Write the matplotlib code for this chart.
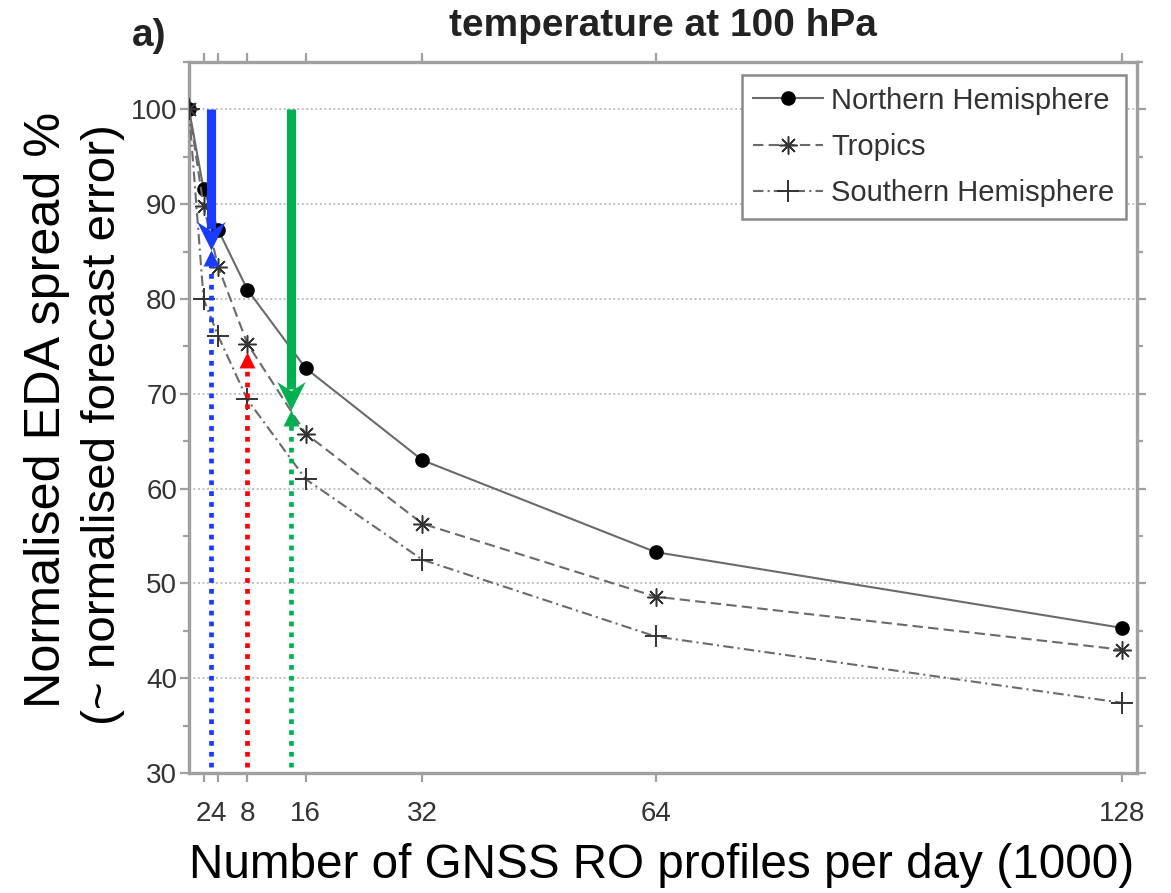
import matplotlib
matplotlib.use("Agg")
import matplotlib.pyplot as plt
from matplotlib.path import Path
from matplotlib.ticker import MultipleLocator, FixedLocator

plt.rcParams["font.family"] = ["Liberation Sans", "DejaVu Sans"]

# GNSS RO profiles per day (thousands) and normalised EDA spread (%)
profiles = [0, 2, 4, 8, 16, 32, 64, 128]
northern = [100, 91.6, 87.3, 81.0, 72.7, 63.0, 53.3, 45.3]
tropics = [100, 89.8, 83.4, 75.3, 65.8, 56.3, 48.6, 43.0]
southern = [100, 80.0, 76.1, 69.4, 61.0, 52.5, 44.4, 37.4]

xtick_values = [2, 4, 8, 16, 32, 64, 128]
ytick_values = [30, 40, 50, 60, 70, 80, 90, 100]

# Highlight arrows: thick downward arrows and dotted upward arrows
down_arrow_x = [3, 14]
down_arrow_tip = [85.2, 68.3]
down_arrow_colors = ["#1a3cff", "#00b050"]
up_arrow_x = [3, 8, 14]
up_arrow_tip = [85.2, 74.4, 68.3]
up_arrow_colors = ["#1a3cff", "#ff0000", "#00b050"]

W, H = 1171, 893
fig = plt.figure(figsize=(W / 100, H / 100), dpi=100)
ax = fig.add_axes([189 / W, 1 - 773 / H, (1137 - 189) / W, (773 - 62) / H])

line_col = "#6a6a6a"
ax.plot(profiles, northern, color=line_col, lw=1.5, ls="-",
        marker="o", ms=9.5, mfc="black", mec="black", label="Northern Hemisphere", zorder=3)
ax.plot(profiles, tropics, color=line_col, lw=1.5, ls=(0, (5, 2.5)),
        marker=(8, 2, 0), ms=13, mec="#333333", mew=1.1, label="Tropics", zorder=3)
ax.plot(profiles, southern, color=line_col, lw=1.5, ls=(0, (5, 2, 1, 2)),
        marker="+", ms=16, mec="#333333", mew=1.4, label="Southern Hemisphere", zorder=3)

ax.set_xlim(0, 130)
ax.set_ylim(30, 105)
ax.xaxis.set_major_locator(FixedLocator(xtick_values))
ax.set_xticklabels([str(v) for v in xtick_values])
ax.yaxis.set_major_locator(FixedLocator(ytick_values))
ax.yaxis.set_minor_locator(MultipleLocator(5))

spine_col = "#a0a0a0"
for s in ax.spines.values():
    s.set_color(spine_col)
    s.set_linewidth(2.4)
ax.tick_params(which="both", direction="out", color=spine_col, width=1.6,
               top=True, right=True, labelcolor="#333333", labelsize=20)
ax.tick_params(which="major", length=6.5)
ax.tick_params(which="minor", length=4)
ax.tick_params(axis="y", pad=2)
ax.tick_params(axis="x", pad=14)
ax.grid(axis="y", which="major", color="#b8b8b8", lw=1.3, ls=(0, (1, 1.5)))
ax.set_axisbelow(True)

# Dotted upward arrows with small triangular heads
up_head = Path([(0, 0), (0.5, -1), (-0.5, -1), (0, 0)],
               [Path.MOVETO, Path.LINETO, Path.LINETO, Path.CLOSEPOLY])
px_per_unit = (773 - 62) / 75.0
for x, tip, c in zip(up_arrow_x, up_arrow_tip, up_arrow_colors):
    head_len = 13 / px_per_unit
    ax.plot([x, x], [30.6, tip - head_len], color=c, lw=3.4,
            ls=(0, (1, 1.3)), dash_capstyle="butt", zorder=4)
    ax.plot([x], [tip], marker=up_head, ms=23, color=c, mec=c, mew=0, zorder=5,
            clip_on=False)

# Thick downward arrows with notched heads
down_head = Path([(0, 0), (0.5, 1), (0, 0.68), (-0.5, 1), (0, 0)],
                 [Path.MOVETO, Path.LINETO, Path.LINETO, Path.LINETO, Path.CLOSEPOLY])
for x, tip, c in zip(down_arrow_x, down_arrow_tip, down_arrow_colors):
    head_len = 28 / px_per_unit
    ax.plot([x, x], [100, tip + head_len * 0.75], color=c, lw=6.6,
            solid_capstyle="butt", zorder=6)
    ax.plot([x], [tip], marker=down_head, ms=41, color=c, mec=c, mew=0, zorder=6)

leg = ax.legend(loc="upper right", bbox_to_anchor=((1126 - 189) / 948, (773 - 75) / 711),
                borderaxespad=0, fontsize=21, frameon=True, fancybox=False,
                edgecolor="#8a8a8a", framealpha=1, handlelength=2.4,
                handletextpad=0.27, labelspacing=0.62, borderpad=0.4, labelcolor="#333333")
leg.get_frame().set_linewidth(1.8)

fig.text(663 / W, 1 - 36 / H, "temperature at 100 hPa", ha="center", va="baseline",
         fontsize=28, fontweight="bold", color="#222222")
fig.text(132 / W, 1 - 46 / H, "a)", ha="left", va="baseline",
         fontsize=28, fontweight="bold", color="#222222")

fig.text(47 / W, 1 - 410 / H, "Normalised EDA spread %", rotation=90,
         ha="center", va="center", fontsize=36.3, color="black")
fig.text(103 / W, 1 - 425 / H, "(~ normalised forecast error)", rotation=90,
         ha="center", va="center", fontsize=34.2, color="black")
fig.text(662 / W, 1 - 878 / H, "Number of GNSS RO profiles per day (1000)",
         ha="center", va="baseline", fontsize=34.3, color="black")

fig.savefig("out.png", dpi=100)
